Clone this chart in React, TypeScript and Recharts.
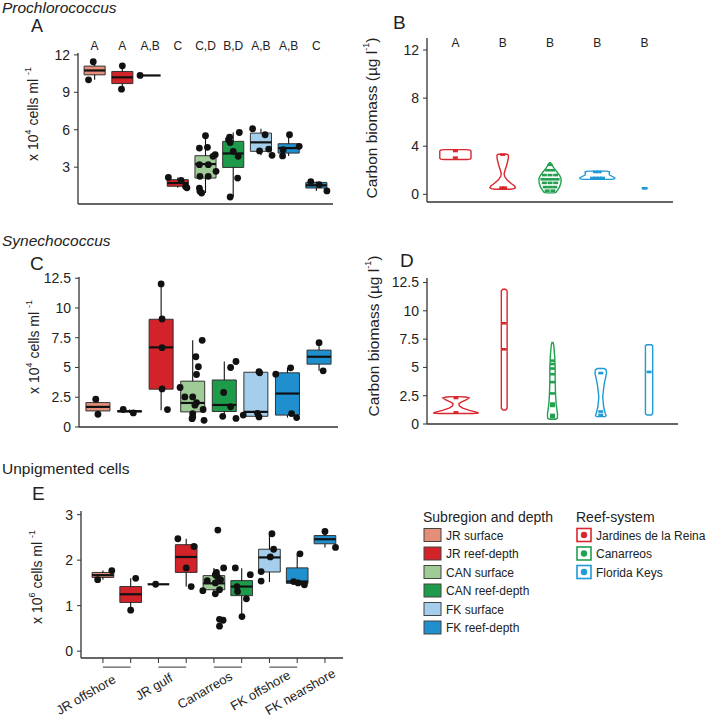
import React from 'react';
import { ComposedChart, XAxis, YAxis, Scatter, ReferenceArea, ReferenceLine } from 'recharts';

const FONT = '"Liberation Sans", Arial, Helvetica, sans-serif';
const AXIS = '#333';
const TEXT = '#222';

const subColors: Record<string, string> = {
  JRs: '#E58F78', JRr: '#D2232A', CANs: '#9FCB97', CANr: '#1E9B4A', FKs: '#A4CEEB', FKr: '#1F8FCE',
};
const reefColors: Record<string, string> = { JR: '#D9272E', CAN: '#22A04F', FK: '#1E9AD6' };

// ---- A: Prochlorococcus (x10^4 cells/ml) ----
const groupsA = ['JRs', 'JRr', 'JRs', 'JRr', 'CANs', 'CANr', 'FKs', 'FKr', 'FKr'];
const lettersA = ['A', 'A', 'A,B', 'C', 'C,D', 'B,D', 'A,B', 'A,B', 'C'];
// lo, q1, median, q3, hi
const boxesA = [
  [10.0, 10.4, 10.75, 11.1, 11.45],
  [9.25, 9.7, 10.2, 10.67, 11.12],
  [10.35, 10.35, 10.35, 10.35, 10.35],
  [1.35, 1.47, 1.73, 2.0, 2.18],
  [0.93, 2.13, 3.25, 3.92, 5.52],
  [0.61, 2.98, 4.1, 5.07, 5.78],
  [3.95, 4.27, 4.99, 5.73, 6.08],
  [3.9, 4.13, 4.53, 4.88, 5.6],
  [1.1, 1.33, 1.55, 1.78, 1.85],
];
// category, jitter, value
const pointsA = [
  [1, -0.05, 11.45], [1, -0.22, 10.0],
  [2, 0, 11.12], [2, -0.03, 9.25],
  [3, -0.36, 10.35],
  [4, -0.34, 2.18], [4, 0.12, 1.95], [4, 0.28, 1.45], [4, 0.33, 1.35],
  [5, 0, 5.52], [5, -0.22, 4.53], [5, 0.07, 4.59], [5, 0.35, 4.0], [5, 0.27, 3.87], [5, -0.22, 3.2],
  [5, 0.1, 3.2], [5, 0.38, 2.67], [5, -0.2, 2.27], [5, 0.1, 2.27], [5, -0.22, 1.33], [5, -0.2, 1.07], [5, -0.14, 0.93],
  [6, -0.17, 5.2], [6, -0.11, 4.98], [6, 0.22, 5.78], [6, 0, 4.27], [6, 0.18, 3.87], [6, 0.16, 2.13], [6, -0.11, 0.61], [6, -0.13, 5.4],
  [7, -0.3, 6.08], [7, 0.15, 5.6], [7, 0.28, 4.45], [7, -0.05, 4.3], [7, 0.4, 3.95],
  [8, 0.03, 5.6], [8, 0.38, 4.67], [8, -0.2, 4.4], [8, -0.22, 3.9],
  [9, -0.2, 1.85], [9, 0.1, 1.6], [9, 0.38, 1.1],
];

// ---- B: Prochlorococcus carbon biomass ----
const reefB = ['JR', 'JR', 'CAN', 'FK', 'FK'];
const lettersB = ['A', 'B', 'B', 'B', 'B'];
// y, half width
const violinsB = [
  [[2.89, 0.24], [2.93, 0.31], [3.0, 0.33], [3.6, 0.33], [3.67, 0.31], [3.72, 0.24]],
  [[0.42, 0.16], [0.47, 0.24], [0.55, 0.27], [0.7, 0.25], [0.9, 0.18], [1.2, 0.09], [1.5, 0.04], [1.7, 0.03], [2.0, 0.05], [2.5, 0.09], [3.0, 0.12], [3.25, 0.12], [3.33, 0.09]],
  [[0.12, 0.09], [0.18, 0.13], [0.35, 0.16], [0.6, 0.2], [0.95, 0.23], [1.3, 0.235], [1.6, 0.2], [1.9, 0.14], [2.2, 0.08], [2.45, 0.04], [2.62, 0.01]],
  [[1.24, 0.28], [1.28, 0.36], [1.36, 0.37], [1.46, 0.33], [1.6, 0.26], [1.75, 0.25], [1.86, 0.26], [1.93, 0.2]],
  [[0.47, 0.05], [0.53, 0.05]],
];
const marksB = [
  [1, 0, 3.6], [1, 0, 3.05],
  [2, 0, 3.3], [2, -0.02, 0.55], [2, 0.04, 0.55],
  [3, 0, 2.45], [3, -0.05, 2.0], [3, 0.05, 2.0], [3, -0.12, 1.6], [3, 0, 1.6], [3, 0.12, 1.6],
  [3, -0.15, 1.25], [3, -0.05, 1.25], [3, 0.05, 1.25], [3, 0.15, 1.25], [3, -0.12, 0.95], [3, 0, 0.95], [3, 0.12, 0.95],
  [3, -0.1, 0.6], [3, 0, 0.6], [3, 0.1, 0.6], [3, -0.06, 0.3], [3, 0.06, 0.3],
  [4, -0.1, 1.36], [4, -0.03, 1.36], [4, 0.04, 1.36], [4, 0.11, 1.36], [4, -0.04, 1.86], [4, 0.04, 1.86],
  [5, 0, 0.5],
];

// ---- C: Synechococcus (x10^4 cells/ml) ----
const groupsC = ['JRs', 'JRr', 'JRr', 'CANs', 'CANr', 'FKs', 'FKr', 'FKr'];
const boxesC = [
  [1.07, 1.35, 1.69, 2.05, 2.33],
  [1.18, 1.27, 1.32, 1.37, 1.47],
  [1.41, 3.18, 6.69, 9.05, 12.02],
  [0.56, 1.27, 2.02, 3.85, 7.28],
  [0.72, 1.3, 1.85, 3.95, 5.5],
  [0.85, 0.9, 1.27, 4.6, 4.65],
  [0.79, 1.0, 2.81, 4.55, 4.97],
  [4.72, 5.28, 5.9, 6.46, 7.08],
];
const pointsC = [
  [1, -0.07, 2.33], [1, 0, 1.07],
  [2, -0.2, 1.47], [2, 0.12, 1.18],
  [3, 0, 12.02], [3, 0.03, 9.07], [3, 0.03, 6.66], [3, 0.03, 3.2], [3, 0.2, 1.46],
  [4, 0.3, 7.28], [4, 0.1, 5.9], [4, 0.18, 5.06], [4, 0.12, 4.41], [4, -0.4, 3.32], [4, -0.25, 2.53], [4, 0, 2.53],
  [4, 0.12, 2.05], [4, 0.07, 1.83], [4, 0.33, 1.47], [4, 0, 1.13], [4, 0, 0.84], [4, 0.36, 0.56], [4, -0.02, 0.7],
  [5, 0.37, 5.5], [5, 0.2, 5.0], [5, -0.02, 2.9], [5, 0.2, 1.7], [5, -0.05, 0.9], [5, 0.37, 0.72],
  [6, 0.1, 4.65], [6, 0.12, 4.55], [6, -0.4, 1.0], [6, 0.1, 0.85], [6, 0.05, 1.15],
  [7, -0.37, 4.44], [7, 0.1, 4.97], [7, 0.13, 1.13], [7, 0.29, 0.79],
  [8, 0, 7.08], [8, 0.13, 4.72],
];

// ---- D: Synechococcus carbon biomass ----
const reefD = ['JR', 'JR', 'CAN', 'FK', 'FK'];
const violinsD = [
  [[0.93, 0.34], [0.97, 0.47], [1.05, 0.42], [1.2, 0.28], [1.4, 0.14], [1.6, 0.07], [1.8, 0.06], [1.95, 0.12], [2.15, 0.22], [2.3, 0.27], [2.38, 0.2], [2.42, 0.05]],
  [[1.24, 0.03], [1.4, 0.06], [11.75, 0.06], [11.9, 0.03]],
  [[0.42, 0.06], [0.5, 0.1], [0.9, 0.105], [1.3, 0.09], [1.8, 0.075], [2.5, 0.065], [3.0, 0.06], [4.0, 0.055], [5.0, 0.055], [6.0, 0.045], [7.0, 0.025], [7.2, 0.01]],
  [[0.65, 0.09], [0.75, 0.11], [1.0, 0.09], [1.5, 0.06], [2.4, 0.04], [3.5, 0.07], [4.5, 0.12], [4.8, 0.11], [4.9, 0.07]],
  [[0.8, 0.05], [0.92, 0.075], [6.9, 0.075], [7.0, 0.05]],
];
const marksD = [
  [1, 0, 1.03], [1, 0, 2.3],
  [2, 0, 8.9], [2, 0, 6.6],
  [3, 0, 5.6], [3, 0, 5.3], [3, 0, 4.9], [3, 0, 4.4], [3, 0, 3.7], [3, 0, 2.7], [3, 0, 1.8], [3, 0, 1.6], [3, 0, 0.8], [3, 0, 0.6],
  [4, 0, 4.5], [4, 0, 1.1], [4, 0, 0.8],
  [5, 0, 4.6],
];

// ---- E: Unpigmented cells (x10^6 cells/ml) ----
const groupsE = ['JRs', 'JRr', 'JRs', 'JRr', 'CANs', 'CANr', 'FKs', 'FKr', 'FKr'];
const boxesE = [
  [1.57, 1.62, 1.67, 1.73, 1.77],
  [0.9, 1.07, 1.25, 1.42, 1.6],
  [1.47, 1.47, 1.47, 1.47, 1.47],
  [1.42, 1.73, 2.07, 2.34, 2.47],
  [1.26, 1.35, 1.49, 1.66, 1.83],
  [0.76, 1.22, 1.42, 1.55, 1.82],
  [1.52, 1.74, 2.06, 2.24, 2.57],
  [1.46, 1.49, 1.53, 1.83, 2.13],
  [2.28, 2.36, 2.46, 2.54, 2.63],
];
const pointsE = [
  [1, -0.19, 1.57], [1, 0.32, 1.77],
  [2, 0.18, 1.6], [2, 0, 0.9],
  [3, -0.1, 1.47],
  [4, -0.3, 2.47], [4, 0.28, 2.3], [4, 0, 1.83], [4, 0.18, 1.42],
  [5, 0.14, 2.66], [5, 0.35, 1.83], [5, 0.09, 1.73], [5, 0.05, 1.68], [5, 0.12, 1.64], [5, -0.24, 1.55], [5, 0.24, 1.57],
  [5, 0.05, 1.5], [5, -0.4, 1.33], [5, 0.05, 1.26], [5, 0.2, 1.35], [5, 0.33, 0.68], [5, 0.2, 0.7], [5, 0.2, 0.55],
  [6, -0.23, 1.83], [6, 0.31, 1.68], [6, -0.17, 1.42], [6, -0.15, 1.31], [6, 0.17, 1.15], [6, 0.01, 0.76],
  [7, 0.09, 2.58], [7, 0.15, 2.24], [7, 0.03, 2.07], [7, -0.3, 1.75], [7, -0.3, 1.54],
  [8, 0.1, 2.14], [8, -0.13, 1.53], [8, 0.26, 1.46], [8, 0.03, 1.5],
  [9, 0, 2.63], [9, 0.38, 2.28],
];
const regionLabelsE = ['JR offshore', 'JR gulf', 'Canarreos', 'FK offshore', 'FK nearshore'];
const regionSpansE = [[1, 2], [3, 4], [5, 6], [7, 8], [9, 9]];
// where each rotated region label ends on the x scale
const regionLabelAtE = [1.5, 3.55, 5.7, 7.8, 9.42];

// ---- legends ----
const legendSub = [
  ['JR surface', 'JRs'], ['JR reef-depth', 'JRr'], ['CAN surface', 'CANs'],
  ['CAN reef-depth', 'CANr'], ['FK surface', 'FKs'], ['FK reef-depth', 'FKr'],
];
const legendReef = [['Jardines de la Reina', 'JR'], ['Canarreos', 'CAN'], ['Florida Keys', 'FK']];

const tickStyle = { fontSize: 14, fill: TEXT, fontFamily: FONT };
const axisLine = { stroke: AXIS, strokeWidth: 1.3 };
const idx = (n: number) => Array.from({ length: n }, (_, i) => i + 1);

const Dot = (p: any) => <circle cx={p.cx} cy={p.cy} r={3.4} fill="#111" />;
const Nothing = () => <g />;
const NoTick = () => <g />;
const dashOf = (color: string) => (p: any) => (
  <rect x={p.cx - 2.5} y={p.cy - 1.3} width={5} height={2.6} fill={color} />
);

const toPoints = (pts: number[][]) => pts.map(([c, j, v]) => ({ x: c + j, y: v }));

function renderBoxes(boxes: number[][], groups: string[], half: number) {
  return boxes.map(([lo, q1, med, q3, hi], i) => {
    const x = i + 1;
    return (
      <React.Fragment key={`box${i}`}>
        <ReferenceArea x1={x - half} x2={x + half} y1={q1} y2={q3} fill={subColors[groups[i]]}
          fillOpacity={1} stroke="#333" strokeWidth={1} />
        <ReferenceLine segment={[{ x, y: lo }, { x, y: q1 }]} stroke="#111" strokeWidth={1.1} />
        <ReferenceLine segment={[{ x, y: q3 }, { x, y: hi }]} stroke="#111" strokeWidth={1.1} />
        <ReferenceLine segment={[{ x: x - half, y: med }, { x: x + half, y: med }]} stroke="#111" strokeWidth={2.2} />
      </React.Fragment>
    );
  });
}

const violinOutline = (cat: number, profile: number[][]) => {
  const left = profile.map(([y, w]) => ({ x: cat - w, y }));
  const right = [...profile].reverse().map(([y, w]) => ({ x: cat + w, y }));
  return [...left, ...right, left[0]];
};

function renderViolins(violins: number[][][], reefs: string[], marks: number[][]) {
  return violins.map((prof, i) => {
    const color = reefColors[reefs[i]];
    return (
      <React.Fragment key={`vio${i}`}>
        <Scatter data={violinOutline(i + 1, prof)} line={{ stroke: color, strokeWidth: 1.4 }} lineType="joint"
          shape={Nothing} isAnimationActive={false} />
        <Scatter data={toPoints(marks.filter((m) => m[0] === i + 1))} shape={dashOf(color)} isAnimationActive={false} />
      </React.Fragment>
    );
  });
}

const PanelA = () => (
  <ComposedChart width={345} height={180} margin={{ top: 3, right: 12, bottom: 4, left: 0 }}>
    <XAxis type="number" dataKey="x" domain={[0.4, 9.6]} allowDataOverflow ticks={[]} tick={false}
      tickLine={false} axisLine={axisLine} height={2} />
    <XAxis xAxisId="sig" orientation="top" type="number" dataKey="x" domain={[0.4, 9.6]} allowDataOverflow
      ticks={idx(lettersA.length)} interval={0} tickFormatter={(v: number) => lettersA[v - 1]}
      axisLine={false} tickLine={false} tickSize={0} tickMargin={3} height={20}
      tick={{ ...tickStyle, fontSize: 12 }} />
    <YAxis type="number" dataKey="y" domain={[0.05, 12.15]} allowDataOverflow ticks={[3, 6, 9, 12]} interval={0}
      width={78} tick={tickStyle} tickSize={4} tickMargin={4} tickLine={{ stroke: AXIS }} axisLine={axisLine} />
    {renderBoxes(boxesA, groupsA, 0.38)}
    <Scatter data={toPoints(pointsA)} shape={Dot} isAnimationActive={false} />
  </ComposedChart>
);

const LetterShape = (p: any) => (
  <text x={p.cx} y={p.cy} textAnchor="middle" dominantBaseline="central" fontSize={12} fill={TEXT}
    fontFamily={FONT}>{p.payload.label}</text>
);

const PanelB = () => (
  <ComposedChart width={330} height={180} margin={{ top: 8, right: 12, bottom: 6, left: 0 }}>
    <XAxis type="number" dataKey="x" domain={[0.4, 5.6]} allowDataOverflow ticks={[]} tick={false}
      tickLine={false} axisLine={axisLine} height={2} />
    <YAxis type="number" dataKey="y" domain={[-0.64, 13]} allowDataOverflow ticks={[0, 4, 8, 12]} interval={0}
      width={72} tick={tickStyle} tickSize={4} tickMargin={4} tickLine={{ stroke: AXIS }} axisLine={axisLine} />
    {renderViolins(violinsB, reefB, marksB)}
    <Scatter data={lettersB.map((label, i) => ({ x: i + 1, y: 12.6, label }))} shape={LetterShape}
      isAnimationActive={false} />
  </ComposedChart>
);

const PanelC = () => (
  <ComposedChart width={350} height={172} margin={{ top: 7, right: 12, bottom: 13, left: 0 }}>
    <XAxis type="number" dataKey="x" domain={[0.4, 8.6]} allowDataOverflow ticks={[]} tick={false}
      tickLine={false} axisLine={axisLine} height={2} />
    <YAxis type="number" dataKey="y" domain={[0, 12.6]} allowDataOverflow ticks={[0, 2.5, 5, 7.5, 10, 12.5]}
      interval={0} width={79} tick={tickStyle} tickSize={4} tickMargin={4} tickLine={{ stroke: AXIS }}
      axisLine={axisLine} />
    {renderBoxes(boxesC, groupsC, 0.38)}
    <Scatter data={toPoints(pointsC)} shape={Dot} isAnimationActive={false} />
  </ComposedChart>
);

const PanelD = () => (
  <ComposedChart width={335} height={168} margin={{ top: 8, right: 12, bottom: 12, left: 0 }}>
    <XAxis type="number" dataKey="x" domain={[0.4, 5.6]} allowDataOverflow ticks={[]} tick={false}
      tickLine={false} axisLine={axisLine} height={2} />
    <YAxis type="number" dataKey="y" domain={[0, 12.9]} allowDataOverflow ticks={[0, 2.5, 5, 7.5, 10, 12.5]}
      interval={0} width={72} tick={tickStyle} tickSize={4} tickMargin={4} tickLine={{ stroke: AXIS }}
      axisLine={axisLine} />
    {renderViolins(violinsD, reefD, marksD)}
  </ComposedChart>
);

const RegionTick = (p: any) => {
  const label = regionLabelsE[p.index];
  const x = p.x;
  const y = p.y + 16 - p.index * 1.5;
  return (
    <text x={x} y={y} transform={`rotate(-30 ${x} ${y})`} textAnchor="end" fontSize={13} fill={TEXT}
      fontFamily={FONT}>{label}</text>
  );
};

const PanelE = () => (
  <ComposedChart width={355} height={220} margin={{ top: 11, right: 12, bottom: 2, left: 0 }}>
    <XAxis type="number" dataKey="x" domain={[0.21, 9.65]} allowDataOverflow ticks={idx(groupsE.length)}
      interval={0} tick={NoTick} tickSize={5} tickLine={{ stroke: AXIS }} axisLine={axisLine} height={8} />
    <XAxis xAxisId="lab" type="number" dataKey="x" domain={[0.21, 9.65]} allowDataOverflow
      ticks={regionLabelAtE} interval={0} tick={RegionTick}
      axisLine={false} tickLine={false} tickSize={0} tickMargin={0} height={52} />
    <YAxis type="number" dataKey="y" domain={[-0.15, 3.08]} allowDataOverflow ticks={[0, 1, 2, 3]} interval={0}
      width={81} tick={tickStyle} tickSize={4} tickMargin={4} tickLine={{ stroke: AXIS }} axisLine={axisLine} />
    {renderBoxes(boxesE, groupsE, 0.39)}
    {regionSpansE.filter(([a, b]) => b > a).map(([a, b]) => (
      <ReferenceLine key={`u${a}`} segment={[{ x: a, y: -0.35 }, { x: b, y: -0.35 }]} ifOverflow="visible"
        stroke={AXIS} strokeWidth={1} />
    ))}
    <Scatter data={toPoints(pointsE)} shape={Dot} isAnimationActive={false} />
  </ComposedChart>
);

const CellsTitle = ({ cx, cy, exp }: { cx: number; cy: number; exp: string }) => (
  <text x={cx} y={cy} transform={`rotate(-90 ${cx} ${cy})`} textAnchor="middle" dominantBaseline="central"
    fontSize={14} fill={TEXT} fontFamily={FONT}>
    x 10<tspan dy={-5} fontSize={9}>{exp}</tspan><tspan dy={5}> cells ml </tspan>
    <tspan dy={-5} fontSize={9}>-1</tspan>
  </text>
);

const BiomassTitle = ({ cx, cy }: { cx: number; cy: number }) => (
  <text x={cx} y={cy} transform={`rotate(-90 ${cx} ${cy})`} textAnchor="middle" dominantBaseline="central"
    fontSize={15.5} fill={TEXT} fontFamily={FONT}>
    Carbon biomass (µg l<tspan dy={-5} fontSize={9}>-1</tspan><tspan dy={5}>)</tspan>
  </text>
);

const Overlay = () => (
  <svg width={709} height={720} style={{ position: 'absolute', left: 0, top: 0, pointerEvents: 'none' }}
    fontFamily={FONT}>
    <text x={2} y={12.5} fontSize={15.5} fontStyle="italic" fill={TEXT}>Prochlorococcus</text>
    <text x={31} y={31.5} fontSize={18} fill={TEXT}>A</text>
    <text x={393} y={29} fontSize={19} fill={TEXT}>B</text>
    <text x={2} y={246} fontSize={15.5} fontStyle="italic" fill={TEXT}>Synechococcus</text>
    <text x={30} y={270} fontSize={19} fill={TEXT}>C</text>
    <text x={400} y={267} fontSize={19} fill={TEXT}>D</text>
    <text x={2} y={474} fontSize={15.5} fill={TEXT}>Unpigmented cells</text>
    <text x={32} y={500} fontSize={19} fill={TEXT}>E</text>

    <CellsTitle cx={33} cy={114} exp="4" />
    <CellsTitle cx={34} cy={347} exp="4" />
    <CellsTitle cx={37} cy={577} exp="6" />
    <BiomassTitle cx={371} cy={118} />
    <BiomassTitle cx={373} cy={336} />

    <text x={423} y={522} fontSize={14} fill={TEXT}>Subregion and depth</text>
    {legendSub.map(([label, key], i) => (
      <g key={key}>
        <rect x={424} y={528.5 + i * 18.5} width={17} height={13} fill={subColors[key]} stroke="#444" strokeWidth={1} />
        <text x={446} y={539.5 + i * 18.5} fontSize={12} fill={TEXT}>{label}</text>
      </g>
    ))}
    <text x={576} y={522} fontSize={14} fill={TEXT}>Reef-system</text>
    {legendReef.map(([label, key], i) => (
      <g key={key}>
        <rect x={577} y={528.5 + i * 18.5} width={14} height={13} fill="#fff" stroke={reefColors[key]} strokeWidth={1.6} />
        <circle cx={584} cy={535 + i * 18.5} r={3.2} fill={reefColors[key]} />
        <text x={596} y={539.5 + i * 18.5} fontSize={12} fill={TEXT}>{label}</text>
      </g>
    ))}
  </svg>
);

export default function App() {
  return (
    <div style={{ position: 'absolute', left: 0, top: 0, width: 709, height: 720, background: '#fff', fontFamily: FONT }}>
      <div style={{ position: 'absolute', left: 0, top: 30 }}><PanelA /></div>
      <div style={{ position: 'absolute', left: 355, top: 30 }}><PanelB /></div>
      <div style={{ position: 'absolute', left: 0, top: 270 }}><PanelC /></div>
      <div style={{ position: 'absolute', left: 355, top: 270 }}><PanelD /></div>
      <div style={{ position: 'absolute', left: 0, top: 500 }}><PanelE /></div>
      <Overlay />
    </div>
  );
}
